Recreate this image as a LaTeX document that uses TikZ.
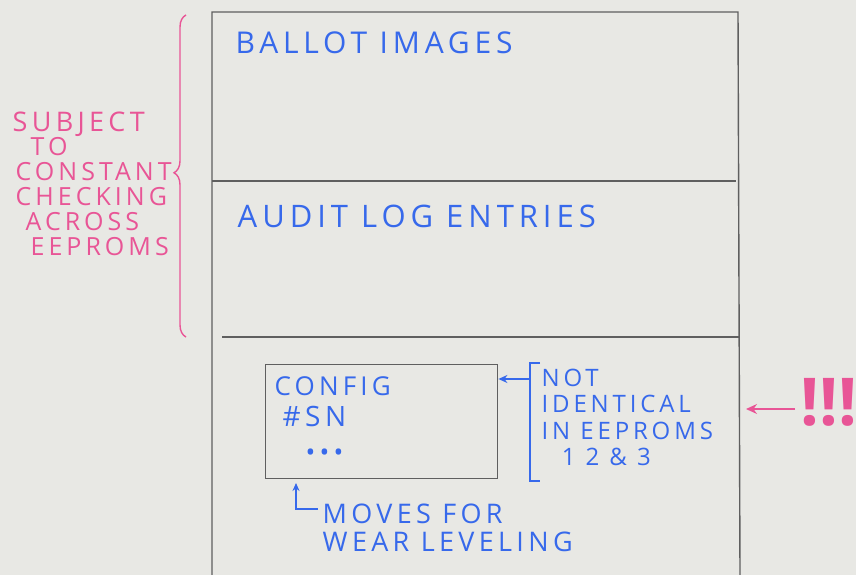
\documentclass[tikz,border=0pt]{standalone}
\usepackage{fontspec}
\setmainfont{Open Sans}
\newfontfamily\handfont[LetterSpace=16]{Open Sans}
\usetikzlibrary{arrows.meta,decorations.pathreplacing}
\definecolor{board}{RGB}{232,232,228}
\definecolor{pen}{RGB}{95,95,95}
\definecolor{inkblue}{RGB}{55,105,235}
\definecolor{inkpink}{RGB}{232,85,150}
\tikzset{
  bluetext/.style={text=inkblue, anchor=west, inner sep=0pt, align=left, font=\handfont\fontsize{30}{30}\selectfont},
  pinktext/.style={text=inkpink, anchor=north west, inner sep=0pt, align=left, font=\handfont\fontsize{25}{25}\selectfont},
  notetext/.style={text=inkblue, anchor=north west, inner sep=0pt, align=left, font=\handfont\fontsize{24}{26.5}\selectfont},
}
\begin{document}
\begin{tikzpicture}[x=1pt,y=-1pt,line width=1.4pt]
\fill[board] (0,0) rectangle (856,575);
\useasboundingbox (0,0) rectangle (856,575);
% memory layout
\draw[pen] (212,575) -- (212,12) -- (738,12) -- (740,575);
\draw[pen] (212,181) -- (736,181);
\draw[pen] (222,337) -- (740,337);
\draw (235,43) node[bluetext] (ballot) {BALLOT  IMAGES};
\draw (237,216) node[bluetext, font=\handfont\fontsize{31}{30}\selectfont] (audit) {AUDIT LOG ENTRIES};
\draw (265,364) node[draw=pen, anchor=north west, minimum width=232pt, minimum height=114pt] (cfg) {};
\draw (274,386) node[bluetext, font=\handfont\fontsize{26}{28}\selectfont] (config) {CONFIG};
\draw (282,416) node[bluetext, font=\handfont\fontsize{28}{28}\selectfont] (sn) {\#SN};
\draw (305,455) node[bluetext, font=\handfont\fontsize{26}{28}\selectfont] (dots) {•••};
% note on the right
\coordinate (brtop) at (540,363);
\coordinate (brbot) at (540,481);
\draw[inkblue] (brtop) -- ++(-10,0) |- (brbot);
\draw[inkblue, -{Stealth[length=9pt,width=8pt]}] (530,379) -- (cfg.east |- 0,379);
\draw (541,368) node[notetext] (note) {NOT\\IDENTICAL\\IN EEPROMS\\\ \ 1 2 \& 3};
\draw (800,402) node[anchor=west, inner sep=0pt, text=inkpink, font=\fontsize{66}{66}\selectfont\bfseries] (bang) {!!!};
\draw[inkpink, -{Stealth[length=11pt,width=10pt]}] (795,409) -- (746,409);
% wear leveling
\draw (322,503) node[notetext, font=\handfont\fontsize{27}{28}\selectfont] (moves) {MOVES FOR\\WEAR LEVELING};
\coordinate (mv) at (318,509);
\draw[inkblue, -{Stealth[length=8pt,width=7pt]}] (mv) -| (296,483);
% checking brace
\coordinate (brlo) at (186,337);
\coordinate (brhi) at (186,15);
\draw[inkpink, decorate, decoration={brace, amplitude=12pt, aspect=0.51}] (brlo) -- (brhi);
\draw (12,111) node[pinktext] (subj) {{\fontsize{27}{25}\selectfont SUBJECT}\\[-1pt]\hspace*{18pt}TO\\\hspace*{3pt}CONSTANT\\\hspace*{3pt}CHECKING\\\hspace*{13pt}ACROSS\\\hspace*{18pt}EEPROMS};
\end{tikzpicture}
\end{document}
